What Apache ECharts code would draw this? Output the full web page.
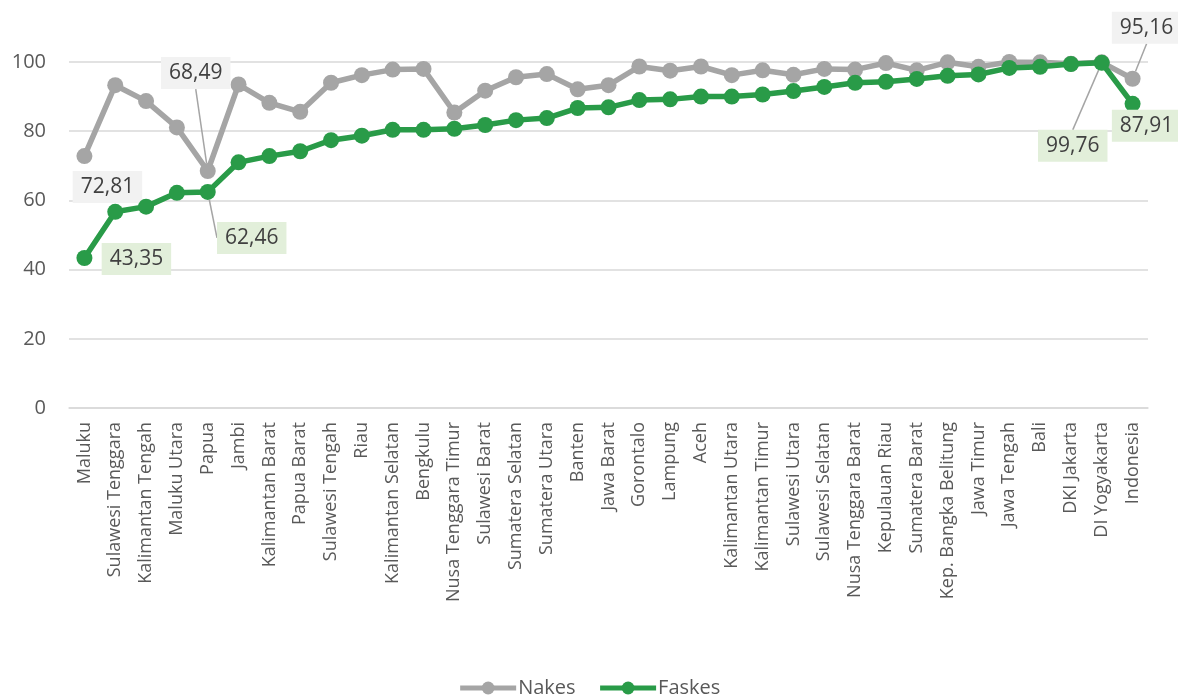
<!DOCTYPE html>
<html>
<head>
<meta charset="utf-8">
<script src="https://cdn.jsdelivr.net/npm/echarts@6/dist/echarts.min.js"></script>
<style>
html,body{margin:0;padding:0;background:#fff;}
#c{width:1178px;height:695px;}
</style>
</head>
<body>
<div id="c"></div>
<script>
const categories = ["Maluku","Sulawesi Tenggara","Kalimantan Tengah","Maluku Utara","Papua","Jambi","Kalimantan Barat","Papua Barat","Sulawesi Tengah","Riau","Kalimantan Selatan","Bengkulu","Nusa Tenggara Timur","Sulawesi Barat","Sumatera Selatan","Sumatera Utara","Banten","Jawa Barat","Gorontalo","Lampung","Aceh","Kalimantan Utara","Kalimantan Timur","Sulawesi Utara","Sulawesi Selatan","Nusa Tenggara Barat","Kepulauan Riau","Sumatera Barat","Kep. Bangka Belitung","Jawa Timur","Jawa Tengah","Bali","DKI Jakarta","DI Yogyakarta","Indonesia"];
const nakes = [72.81,93.3,88.7,81.1,68.49,93.5,88.2,85.6,94.0,96.2,97.8,98.0,85.4,91.7,95.6,96.5,92.1,93.3,98.7,97.5,98.7,96.2,97.6,96.3,98.0,97.8,99.7,97.6,99.9,98.6,100.0,99.9,99.5,99.9,95.16];
const faskes = [43.35,56.7,58.2,62.2,62.46,71.0,72.8,74.2,77.4,78.7,80.4,80.4,80.7,81.8,83.2,83.8,86.7,86.9,89.0,89.2,90.0,90.0,90.6,91.6,92.8,94.0,94.3,95.1,96.0,96.4,98.3,98.6,99.4,99.76,87.91];
const yTicks = [0,20,40,60,80,100];
const nakesLabeled = [0,4,34];
const faskesLabeled = [0,4,33,34];

// label offsets (style): label centre relative to point
const nakesOffsets = {0:[23,31],4:[-12,-98],34:[14,-51]};
const faskesOffsets = {0:[52,1],4:[44,46],33:[-29,83],34:[14,22]};

const FONT = '"Open Sans", sans-serif';
const fmt = v => v.toFixed(2).replace('.', ',');

function buildData(vals, labeled, bg, noLine) {
  return vals.map((v, i) => {
    if (!labeled.includes(i)) return v;
    return {
      value: v,
      label: { show: true, backgroundColor: bg },
      labelLine: { show: !(noLine || []).includes(i) }
    };
  });
}
function layoutFn(offsets) {
  return function (p) {
    const o = offsets[p.dataIndex];
    return o ? { dx: o[0], dy: o[1] } : {};
  };
}
const labelBase = {
  show: false, position: 'inside', formatter: p => fmt(p.value),
  color: '#404040', fontSize: 21, fontFamily: FONT, padding: [6, 8, 5, 8]
};

const chart = echarts.init(document.getElementById('c'));
chart.setOption({
  animation: false,
  textStyle: { fontFamily: FONT },
  grid: { left: 69, right: 30, top: 62, bottom: 287, containLabel: false },
  legend: {
    top: 673, left: 'center', itemWidth: 56, itemHeight: 16, itemGap: 22,
    lineStyle: { width: 5 },
    textStyle: { fontSize: 20, color: '#595959', fontFamily: FONT, padding: [0, 0, 0, -3] },
    data: ['Nakes', 'Faskes']
  },
  xAxis: {
    type: 'category', data: categories, boundaryGap: true,
    axisLine: { show: true, lineStyle: { color: '#d9d9d9', width: 1.5 } },
    axisTick: { show: false },
    axisLabel: { rotate: 90, interval: 0, fontSize: 18, color: '#595959', fontFamily: FONT, margin: 14 }
  },
  yAxis: {
    type: 'value', min: yTicks[0], max: yTicks[yTicks.length - 1], interval: 20,
    axisLine: { show: false }, axisTick: { show: false },
    axisLabel: { fontSize: 20, color: '#595959', fontFamily: FONT, margin: 23 },
    splitLine: { lineStyle: { color: '#d9d9d9', width: 1.5 } }
  },
  series: [
    {
      name: 'Nakes', type: 'line', data: buildData(nakes, nakesLabeled, '#f2f2f2', [0]),
      symbol: 'circle', symbolSize: 16,
      itemStyle: { color: '#a5a5a5' }, lineStyle: { color: '#a5a5a5', width: 5.5 },
      label: labelBase,
      labelLine: { show: true, lineStyle: { color: '#a5a5a5', width: 1.5 } },
      labelLayout: layoutFn(nakesOffsets), z: 2
    },
    {
      name: 'Faskes', type: 'line', data: buildData(faskes, faskesLabeled, '#e2efda', [0, 34]),
      symbol: 'circle', symbolSize: 16,
      itemStyle: { color: '#299b48' }, lineStyle: { color: '#299b48', width: 5.5 },
      label: labelBase,
      labelLine: { show: true, lineStyle: { color: '#a5a5a5', width: 1.5 } },
      labelLayout: layoutFn(faskesOffsets), z: 3
    }
  ]
});
</script>
</body>
</html>
